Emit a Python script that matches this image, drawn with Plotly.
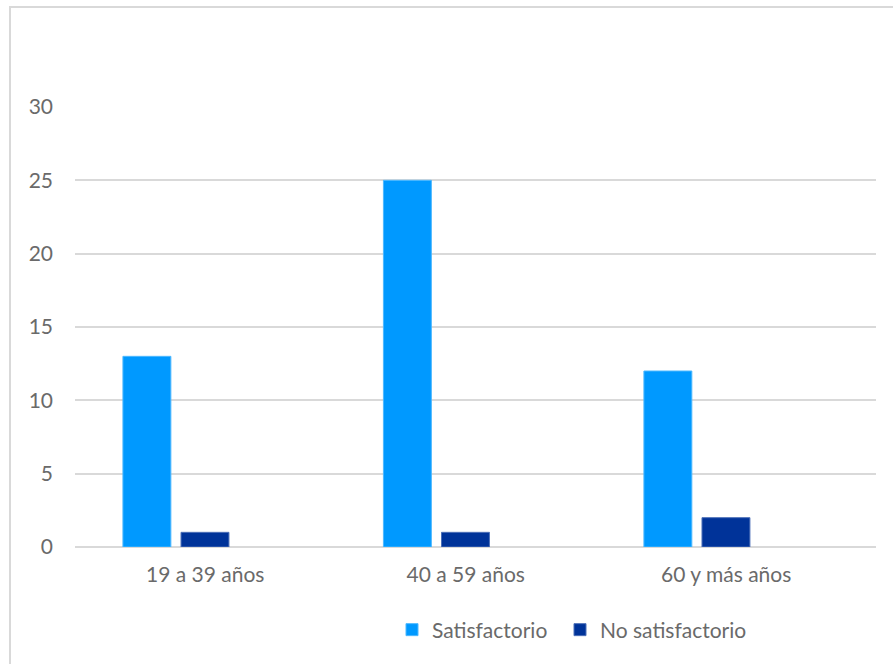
import plotly.graph_objects as go

categories = ["19 a 39 años", "40 a 59 años", "60 y más años"]
satisfactorio = [13, 25, 12]
no_satisfactorio = [1, 1, 2]
y_ticks = [0, 5, 10, 15, 20, 25, 30]

font_family = "Lato, 'Open Sans', sans-serif"
text_color = "#6a6a6a"
grid_color = "#d9d9d9"
fs = 21

fig = go.Figure()
fig.add_trace(go.Bar(
    x=categories, y=satisfactorio, name="Satisfactorio",
    marker=dict(color="#0099FF", line=dict(color="#4db8ff", width=1)),
    width=0.184, offset=-0.316, legend="legend",
))
fig.add_trace(go.Bar(
    x=categories, y=no_satisfactorio, name="No satisfactorio",
    marker=dict(color="#003399", line=dict(color="#4d70b8", width=1)),
    width=0.184, offset=-0.093, legend="legend2",
))

leg_common = dict(orientation="h", xanchor="left", y=(547 - 630) / 440, yanchor="middle",
                  font=dict(size=fs, color=text_color), bgcolor="rgba(0,0,0,0)")

fig.update_layout(
    width=893, height=664,
    margin=dict(l=75, r=17, t=107, b=117),
    paper_bgcolor="white", plot_bgcolor="white",
    font=dict(family=font_family, size=fs, color=text_color),
    showlegend=True,
    legend=dict(x=(392 - 75) / 801, **leg_common),
    legend2=dict(x=(560 - 75) / 801, **leg_common),
    barmode="overlay",
    xaxis=dict(type="category", range=[-0.5, 2.575], showgrid=False, showline=False,
               zeroline=False, ticks="", ticklabelstandoff=13,
               tickfont=dict(size=fs, color=text_color)),
    yaxis=dict(range=[0, 30], tickvals=y_ticks, showgrid=True, gridcolor=grid_color,
               gridwidth=2, zeroline=True, zerolinecolor=grid_color, zerolinewidth=2,
               showline=False, ticks="", ticklabelstandoff=21,
               tickfont=dict(size=fs, color=text_color)),
    shapes=[dict(type="rect", xref="paper", yref="paper",
                 x0=(10 - 75) / 801, x1=(1000 - 75) / 801,
                 y0=(547 - 800) / 440, y1=(547 - 7) / 440,
                 line=dict(color=grid_color, width=2), fillcolor="rgba(0,0,0,0)",
                 layer="below")],
)

fig.write_html("out.html")
